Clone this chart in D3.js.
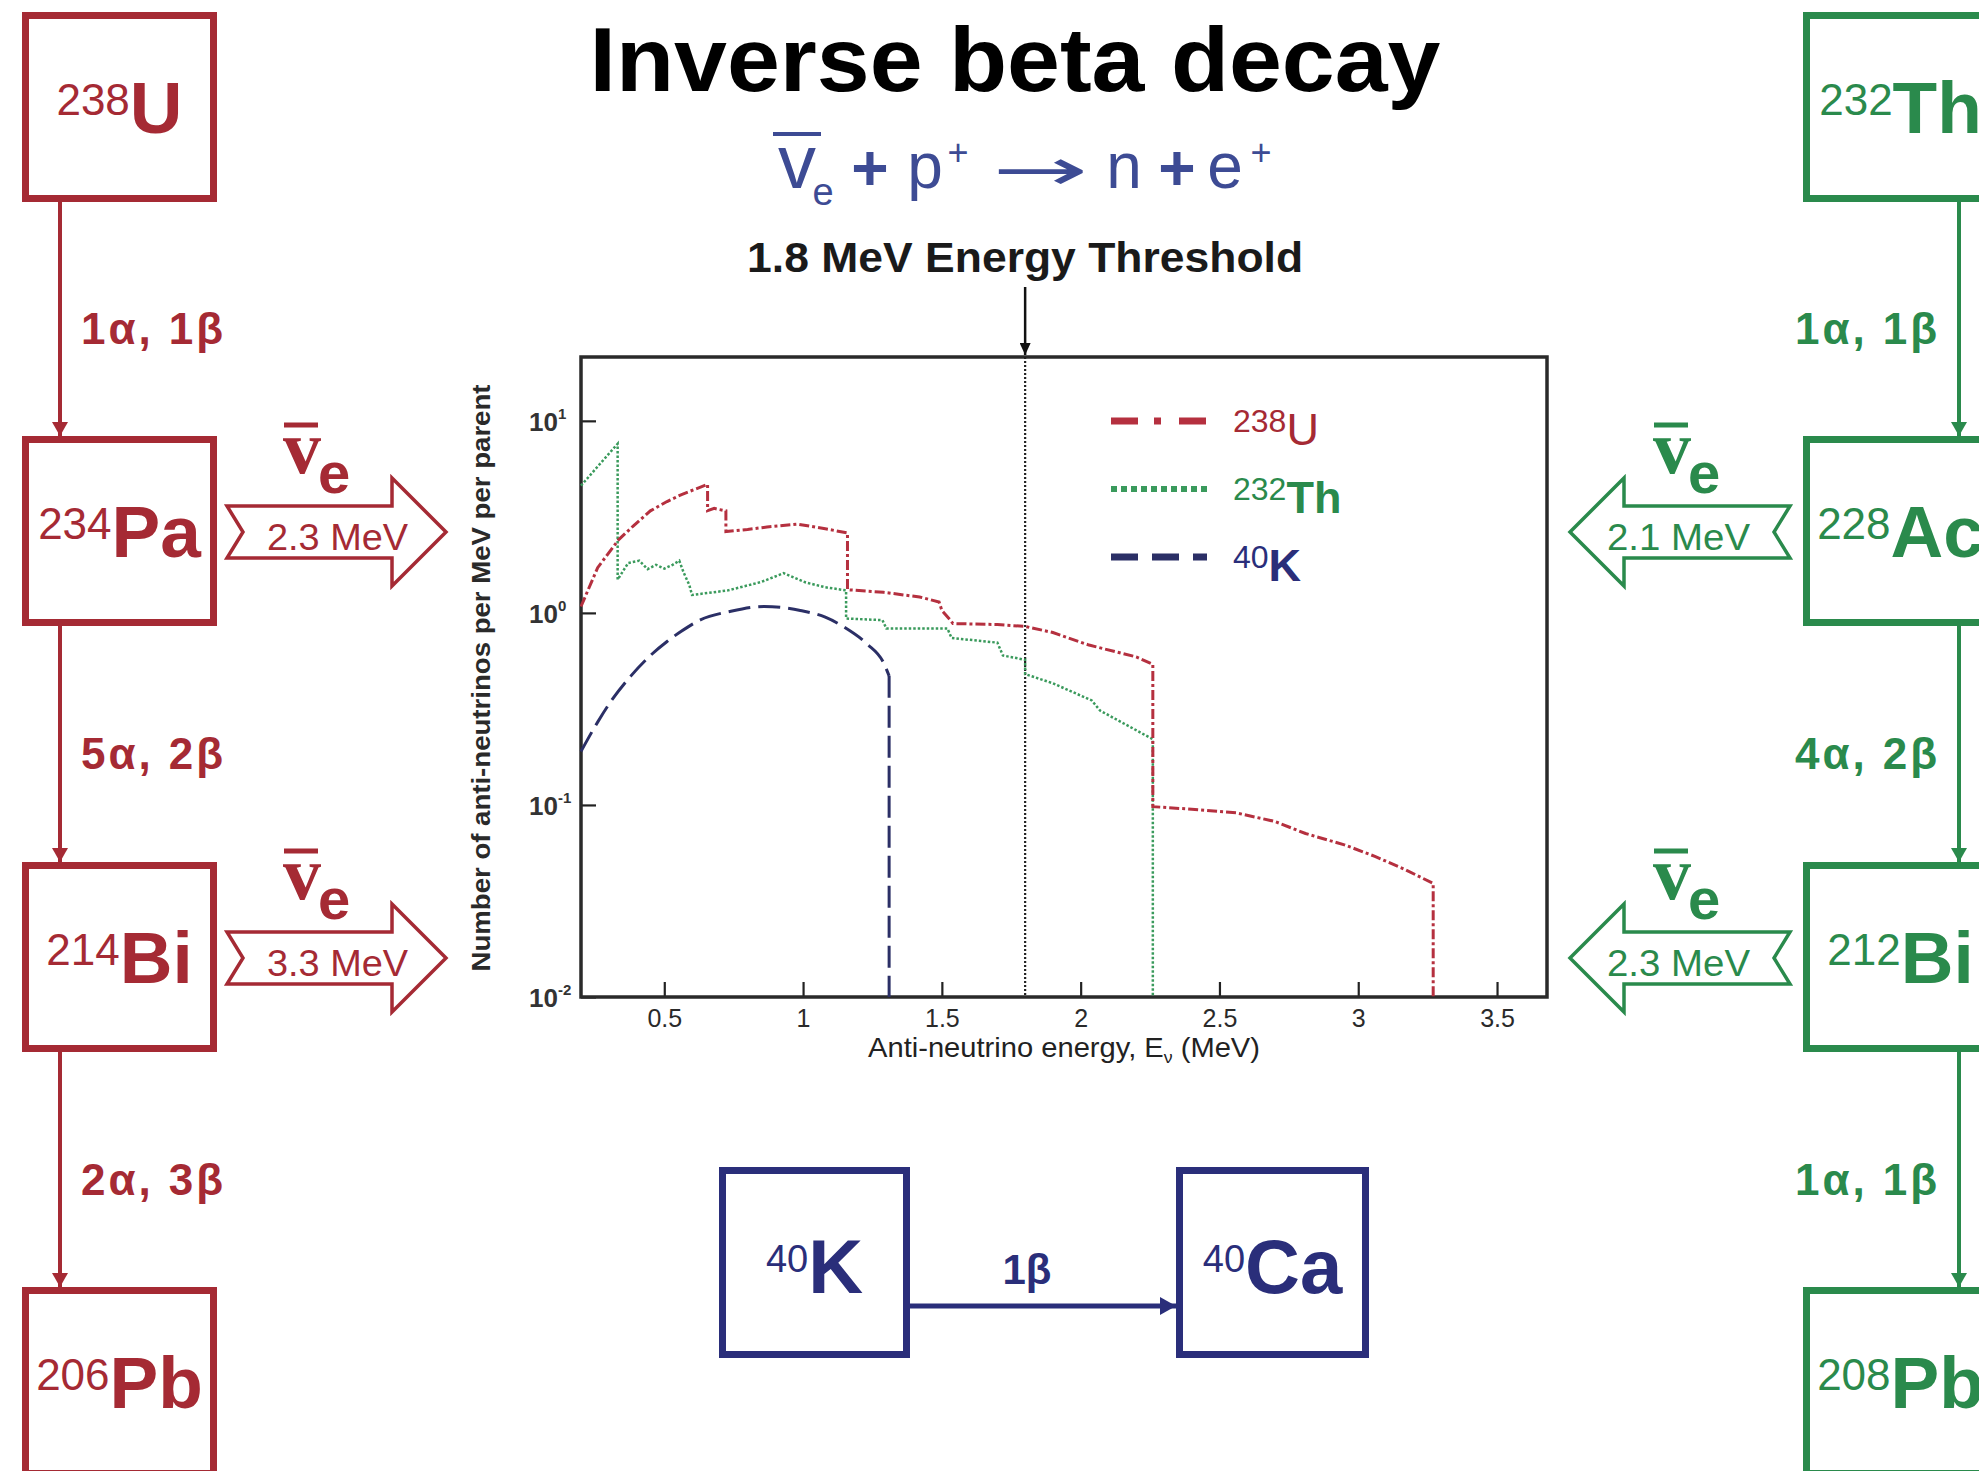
<!DOCTYPE html>
<html lang="en">
<head>
<meta charset="UTF-8">
<title>Inverse beta decay</title>
<style>
  body { margin: 0; background: #fff; }
  svg { display: block; font-family: "Liberation Sans", Arial, sans-serif; }
</style>
</head>
<body>
<svg width="1979" height="1471"></svg>
<script src="https://d3js.org/d3.v7.min.js"></script>
<script>
  // ---- spectrum data ----
  const uEnergy = [0.20, 0.26, 0.335, 0.39, 0.45, 0.51, 0.56, 0.61, 0.656, 0.656, 0.68, 0.70, 0.722, 0.722, 0.80, 0.87, 0.98, 1.08, 1.16, 1.16, 1.29, 1.42, 1.49, 1.50, 1.53, 1.54, 1.70, 1.80, 1.90, 2.03, 2.20, 2.26, 2.26, 2.40, 2.56, 2.70, 2.81, 2.95, 3.06, 3.17, 3.27, 3.27];
  const uFlux   = [1.08, 1.72, 2.40, 2.85, 3.40, 3.80, 4.12, 4.40, 4.67, 3.41, 3.50, 3.45, 3.40, 2.65, 2.72, 2.80, 2.90, 2.74, 2.61, 1.32, 1.28, 1.21, 1.14, 1.03, 0.92, 0.88, 0.87, 0.85, 0.79, 0.68, 0.59, 0.54, 0.098, 0.095, 0.091, 0.082, 0.071, 0.062, 0.054, 0.046, 0.039, 0.01];

  const thEnergy = [0.20, 0.332, 0.332, 0.37, 0.41, 0.44, 0.47, 0.50, 0.53, 0.554, 0.57, 0.59, 0.60, 0.73, 0.85, 0.93, 1.01, 1.08, 1.155, 1.155, 1.286, 1.30, 1.52, 1.535, 1.70, 1.72, 1.80, 1.80, 1.90, 2.04, 2.07, 2.235, 2.26, 2.26];
  const thFlux   = [4.60, 7.60, 1.49, 1.82, 1.87, 1.69, 1.78, 1.70, 1.78, 1.87, 1.62, 1.40, 1.24, 1.31, 1.45, 1.61, 1.44, 1.36, 1.31, 0.935, 0.917, 0.83, 0.83, 0.74, 0.70, 0.60, 0.57, 0.48, 0.43, 0.35, 0.31, 0.23, 0.22, 0.01];

  const kEnergy = [0.20, 0.26, 0.31, 0.38, 0.45, 0.51, 0.56, 0.63, 0.74, 0.86, 0.99, 1.08, 1.15, 1.23, 1.29, 1.31, 1.31];
  const kFlux   = [0.19, 0.27, 0.35, 0.47, 0.60, 0.71, 0.80, 0.92, 1.02, 1.08, 1.03, 0.95, 0.84, 0.69, 0.55, 0.47, 0.01];

  const xTicks = [0.5, 1, 1.5, 2, 2.5, 3, 3.5];
  const yTicks = [0.01, 0.1, 1, 10];
  const yTickExp = ["-2", "-1", "0", "1"];
  const thresholdMeV = 1.8;

  // ---- decay chains ----
  const uMass = ["238", "234", "214", "206"];
  const uSym = ["U", "Pa", "Bi", "Pb"];
  const uSteps = ["1α, 1β", "5α, 2β", "2α, 3β"];
  const uNuEnergy = ["2.3 MeV", "3.3 MeV"];

  const thMass = ["232", "228", "212", "208"];
  const thSym = ["Th", "Ac", "Bi", "Pb"];
  const thSteps = ["1α, 1β", "4α, 2β", "1α, 1β"];
  const thNuEnergy = ["2.1 MeV", "2.3 MeV"];

  const red = "#a52a34", green = "#2a8a4c", navy = "#2a2e7a", eqBlue = "#3d4b94";
  const uLine = "#b5303f", thLine = "#3a9a5c", kLine = "#2b2f66";

  const svg = d3.select("svg");
  svg.append("rect").attr("width", 1979).attr("height", 1471).attr("fill", "#fff");

  const defs = svg.append("defs");
  function marker(id, color, len, wid) {
    defs.append("marker")
      .attr("id", id)
      .attr("viewBox", `0 0 ${len} ${wid}`)
      .attr("refX", len).attr("refY", wid / 2)
      .attr("markerWidth", len).attr("markerHeight", wid)
      .attr("markerUnits", "userSpaceOnUse")
      .attr("orient", "auto")
      .append("path")
      .attr("d", `M0,0 L${len},${wid / 2} L0,${wid} Z`)
      .attr("fill", color);
  }
  marker("arRed", red, 14, 16);
  marker("arGreen", green, 14, 16);
  marker("arNavy", navy, 16, 18);
  marker("arBlack", "#111", 12, 11);

  // ---- title and reaction ----
  svg.append("text").attr("x", 1015).attr("y", 91).attr("text-anchor", "middle")
    .attr("font-size", 91).attr("font-weight", "bold").attr("fill", "#000")
    .attr("textLength", 851).attr("lengthAdjust", "spacingAndGlyphs")
    .text("Inverse beta decay");

  const eq = svg.append("g").attr("fill", eqBlue).attr("text-anchor", "middle");
  eq.append("line").attr("x1", 773).attr("x2", 821).attr("y1", 134).attr("y2", 134)
    .attr("stroke", eqBlue).attr("stroke-width", 4);
  eq.append("text").attr("x", 797).attr("y", 188).attr("font-size", 76).text("v");
  eq.append("text").attr("x", 823).attr("y", 205).attr("font-size", 38).text("e");
  eq.append("text").attr("x", 870).attr("y", 190).attr("font-size", 64).attr("font-weight", "bold").text("+");
  eq.append("text").attr("x", 925).attr("y", 188).attr("font-size", 64).text("p");
  eq.append("text").attr("x", 958).attr("y", 165).attr("font-size", 36).text("+");
  eq.append("text").attr("x", 992).attr("y", 190).attr("text-anchor", "start")
    .attr("font-family", "DejaVu Sans").attr("font-size", 58)
    .attr("textLength", 96).attr("lengthAdjust", "spacingAndGlyphs").text("→");
  eq.append("text").attr("x", 1124).attr("y", 188).attr("font-size", 64).text("n");
  eq.append("text").attr("x", 1177).attr("y", 190).attr("font-size", 64).attr("font-weight", "bold").text("+");
  eq.append("text").attr("x", 1225).attr("y", 188).attr("font-size", 64).text("e");
  eq.append("text").attr("x", 1261).attr("y", 165).attr("font-size", 36).text("+");

  // ---- spectrum plot ----
  const plot = { left: 581, right: 1547, top: 357, bottom: 997 };
  const x = d3.scaleLinear().domain([0.2, 3.68]).range([plot.left, plot.right]);
  const y = d3.scaleLog().domain([0.01, 21.5]).range([plot.bottom, plot.top]);

  svg.append("text").attr("x", x(thresholdMeV)).attr("y", 272).attr("text-anchor", "middle")
    .attr("font-size", 42).attr("font-weight", "bold").attr("fill", "#1a1a1a")
    .attr("textLength", 556).attr("lengthAdjust", "spacingAndGlyphs")
    .text("1.8 MeV Energy Threshold");
  svg.append("line").attr("x1", x(thresholdMeV)).attr("x2", x(thresholdMeV))
    .attr("y1", 287).attr("y2", plot.top - 2)
    .attr("stroke", "#111").attr("stroke-width", 2.5).attr("marker-end", "url(#arBlack)");

  // axes (ticks point inwards)
  const minorX = d3.range(3, 37).map(i => i / 10).filter(v => Math.abs(v * 2 - Math.round(v * 2)) > 1e-6);
  const xAxis = svg.append("g").attr("transform", `translate(0,${plot.bottom})`);
  xAxis.call(d3.axisBottom(x).tickValues(minorX).tickSize(-9).tickFormat(""));
  xAxis.call(d3.axisBottom(x).tickValues(xTicks).tickSize(-15).tickPadding(12).tickFormat(d3.format("~g")));
  xAxis.selectAll(".domain").remove();
  xAxis.selectAll("line").attr("stroke", "#222").attr("stroke-width", 2.2);
  xAxis.selectAll("text").attr("font-size", 25).attr("fill", "#2a2a2a")
    .attr("font-family", "'Liberation Sans', Arial, sans-serif");

  const minorY = [];
  [0.01, 0.1, 1, 10].forEach(d => d3.range(2, 10).forEach(m => { if (d * m < 21.5) minorY.push(d * m); }));
  const yAxis = svg.append("g").attr("transform", `translate(${plot.left},0)`);
  yAxis.call(d3.axisLeft(y).tickValues(minorY).tickSize(-9).tickFormat(""));
  yAxis.call(d3.axisLeft(y).tickValues(yTicks).tickSize(-15).tickFormat(""));
  yAxis.selectAll(".domain").remove();
  yAxis.selectAll("line").attr("stroke", "#222").attr("stroke-width", 2.2);

  yTicks.forEach((v, i) => {
    const t = svg.append("text").attr("x", 529).attr("y", y(v) + 10)
      .attr("font-size", 26).attr("font-weight", "bold").attr("fill", "#333");
    t.append("tspan").text("10");
    t.append("tspan").attr("font-size", 15).attr("dy", -12).text(yTickExp[i]);
  });

  svg.append("rect").attr("x", plot.left).attr("y", plot.top)
    .attr("width", plot.right - plot.left).attr("height", plot.bottom - plot.top)
    .attr("fill", "none").attr("stroke", "#2a2a2a").attr("stroke-width", 3.5);

  const xl = svg.append("text").attr("x", (plot.left + plot.right) / 2).attr("y", 1057)
    .attr("text-anchor", "middle").attr("font-size", 28).attr("fill", "#222")
    .attr("textLength", 392).attr("lengthAdjust", "spacingAndGlyphs");
  xl.append("tspan").text("Anti-neutrino energy, E");
  xl.append("tspan").attr("font-size", 17).attr("dy", 6).text("ν");
  xl.append("tspan").attr("dy", -6).text(" (MeV)");

  svg.append("text").attr("transform", "translate(490,678) rotate(-90)")
    .attr("text-anchor", "middle").attr("font-size", 25).attr("font-weight", "bold").attr("fill", "#2a2a2a")
    .attr("textLength", 587).attr("lengthAdjust", "spacingAndGlyphs")
    .text("Number of anti-neutrinos per MeV per parent");

  // threshold line
  svg.append("line").attr("x1", x(thresholdMeV)).attr("x2", x(thresholdMeV))
    .attr("y1", plot.top).attr("y2", plot.bottom)
    .attr("stroke", "#222").attr("stroke-width", 2.2).attr("stroke-dasharray", "2,2");

  const lineGen = d3.line().x(d => x(d[0])).y(d => y(d[1]));
  const smoothGen = d3.line().x(d => x(d[0])).y(d => y(d[1])).curve(d3.curveMonotoneX);

  const kPts = d3.zip(kEnergy, kFlux);
  svg.append("path").attr("d", smoothGen(kPts.slice(0, -1)))
    .attr("fill", "none").attr("stroke", kLine).attr("stroke-width", 3).attr("stroke-dasharray", "22,8");
  svg.append("path").attr("d", lineGen(kPts.slice(-2)))
    .attr("fill", "none").attr("stroke", kLine).attr("stroke-width", 3).attr("stroke-dasharray", "22,8");

  svg.append("path").attr("d", lineGen(d3.zip(thEnergy, thFlux)))
    .attr("fill", "none").attr("stroke", thLine).attr("stroke-width", 2.5).attr("stroke-dasharray", "2.5,2");

  svg.append("path").attr("d", lineGen(d3.zip(uEnergy, uFlux)))
    .attr("fill", "none").attr("stroke", uLine).attr("stroke-width", 3).attr("stroke-dasharray", "10,3,3,3");

  // legend
  const legend = [
    { mass: "238", sym: "U", color: red, line: uLine, dash: "27,16,7,18", w: 7, weight: "normal" },
    { mass: "232", sym: "Th", color: green, line: thLine, dash: "6,4", w: 6, weight: "bold" },
    { mass: "40", sym: "K", color: navy, line: kLine, dash: "27,14", w: 7, weight: "bold" }
  ];
  legend.forEach((d, i) => {
    const ly = 421 + i * 68;
    svg.append("line").attr("x1", 1111).attr("x2", 1207).attr("y1", ly).attr("y2", ly)
      .attr("stroke", d.line).attr("stroke-width", d.w).attr("stroke-dasharray", d.dash);
    const t = svg.append("text").attr("x", 1233).attr("y", ly + 24).attr("fill", d.color);
    t.append("tspan").attr("font-size", 32).attr("dy", -13).text(d.mass);
    t.append("tspan").attr("font-size", 45).attr("font-weight", d.weight).attr("dy", 13).text(d.sym);
  });

  // ---- decay chain boxes ----
  const boxTops = [12, 436, 862, 1287];
  const boxH = 190, boxW = 195;

  function nuclide(bx, top, w, h, mass, sym, color, mSize, sSize, raise, baseOff) {
    svg.append("rect").attr("x", bx + 3.5).attr("y", top + 3.5)
      .attr("width", w - 7).attr("height", h - 7)
      .attr("fill", "none").attr("stroke", color).attr("stroke-width", 7);
    const t = svg.append("text").attr("x", bx + w / 2).attr("y", top + baseOff)
      .attr("text-anchor", "middle").attr("fill", color);
    t.append("tspan").attr("font-size", mSize).attr("dy", -raise).text(mass);
    t.append("tspan").attr("font-size", sSize).attr("font-weight", "bold").attr("dy", raise).text(sym);
  }

  function blockArrow(tailX, tipX, cy, color) {
    const dir = Math.sign(tipX - tailX), h = 26, H = 54, L = 54, n = 16;
    const xb = tipX - dir * L;
    svg.append("path")
      .attr("d", `M${tailX},${cy - h} L${xb},${cy - h} L${xb},${cy - H} L${tipX},${cy} L${xb},${cy + H} L${xb},${cy + h} L${tailX},${cy + h} L${tailX + dir * n},${cy} Z`)
      .attr("fill", "#fff").attr("stroke", color).attr("stroke-width", 3.5).attr("stroke-linejoin", "miter");
  }

  function antiNu(vx, cy, color) {
    svg.append("line").attr("x1", vx + 1).attr("x2", vx + 35).attr("y1", cy - 107).attr("y2", cy - 107)
      .attr("stroke", color).attr("stroke-width", 5);
    svg.append("text").attr("x", vx).attr("y", cy - 59).attr("fill", color)
      .attr("font-family", "'Liberation Serif', 'Times New Roman', serif").attr("font-weight", "bold")
      .attr("font-size", 76).text("v");
    svg.append("text").attr("x", vx + 35).attr("y", cy - 39).attr("fill", color)
      .attr("font-weight", "bold").attr("font-size", 58).text("e");
  }

  function chain(bx, lineX, mass, sym, steps, nuE, color, markerId, side) {
    boxTops.forEach((top, i) => nuclide(bx, top, boxW, boxH, mass[i], sym[i], color, 44, 73, 18, 121));
    steps.forEach((s, i) => {
      svg.append("line").attr("x1", lineX).attr("x2", lineX)
        .attr("y1", boxTops[i] + boxH).attr("y2", boxTops[i + 1])
        .attr("stroke", color).attr("stroke-width", 4).attr("marker-end", `url(#${markerId})`);
      const midY = (boxTops[i] + boxH + boxTops[i + 1]) / 2;
      svg.append("text")
        .attr("x", side === "left" ? 81 : 1937).attr("y", midY + 25)
        .attr("text-anchor", side === "left" ? "start" : "end")
        .attr("font-size", 44).attr("font-weight", "bold").attr("fill", color)
        .attr("textLength", 142).text(s);
    });
    nuE.forEach((e, i) => {
      const cy = boxTops[i + 1] + 96;
      if (side === "left") {
        blockArrow(227, 446, cy, color);
        antiNu(283, cy, color);
        svg.append("text").attr("x", 267).attr("y", cy + 18).attr("font-size", 36).attr("fill", color)
          .attr("textLength", 141).attr("lengthAdjust", "spacingAndGlyphs").text(e);
      } else {
        blockArrow(1790, 1570, cy, color);
        antiNu(1653, cy, color);
        svg.append("text").attr("x", 1607).attr("y", cy + 18).attr("font-size", 36).attr("fill", color)
          .attr("textLength", 143).attr("lengthAdjust", "spacingAndGlyphs").text(e);
      }
    });
  }

  chain(22, 60, uMass, uSym, uSteps, uNuEnergy, red, "arRed", "left");
  chain(1803, 1959, thMass, thSym, thSteps, thNuEnergy, green, "arGreen", "right");

  // ---- potassium ----
  const kBox = { x: 719, y: 1167, w: 191, h: 191 };
  const caBox = { x: 1176, y: 1167, w: 193, h: 191 };
  nuclide(kBox.x, kBox.y, kBox.w, kBox.h, "40", "K", navy, 38, 76, 21, 126);
  nuclide(caBox.x, caBox.y, caBox.w, caBox.h, "40", "Ca", navy, 38, 76, 21, 126);
  svg.append("line").attr("x1", kBox.x + kBox.w).attr("x2", caBox.x)
    .attr("y1", 1306).attr("y2", 1306)
    .attr("stroke", navy).attr("stroke-width", 5).attr("marker-end", "url(#arNavy)");
  svg.append("text").attr("x", 1027).attr("y", 1284).attr("text-anchor", "middle")
    .attr("font-size", 42).attr("font-weight", "bold").attr("fill", navy)
    .text("1β");
</script>
</body>
</html>
